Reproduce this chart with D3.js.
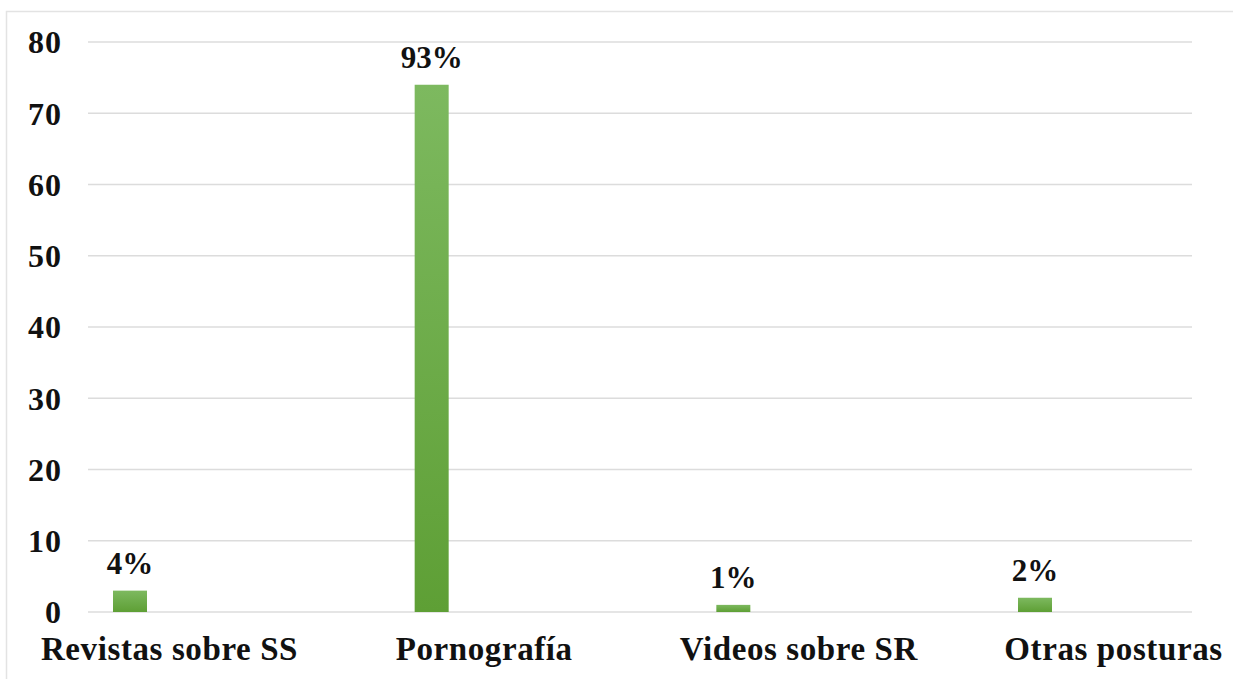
<!DOCTYPE html>
<html><head><meta charset="utf-8">
<script src="https://cdn.jsdelivr.net/npm/d3@7"></script>
<style>body{margin:0;background:#fff}svg{display:block}</style>
</head><body>
<script>
const categories = ["Revistas sobre SS", "Pornografía", "Videos sobre SR", "Otras posturas"];
const values = [3, 74, 1, 2];
const pctLabels = ["4%", "93%", "1%", "2%"];
const yTicks = [0, 10, 20, 30, 40, 50, 60, 70, 80];

const W = 1233, H = 679;
const svg = d3.select("body").append("svg").attr("width", W).attr("height", H);
const font = "'Liberation Serif','Times New Roman',serif";

const defs = svg.append("defs");
const grad = defs.append("linearGradient").attr("id", "g").attr("x1", 0).attr("y1", 0).attr("x2", 0).attr("y2", 1);
grad.append("stop").attr("offset", "0%").attr("stop-color", "#7db95f");
grad.append("stop").attr("offset", "100%").attr("stop-color", "#5e9f35");

// frame
svg.append("rect").attr("x", 6.5).attr("y", 11.5).attr("width", 1240).attr("height", 680)
  .attr("fill", "none").attr("stroke", "#e3e3e3").attr("stroke-width", 1.5);

const y = d3.scaleLinear().domain([0, 80]).range([612, 42]);
const xBar = d3.scalePoint().domain(categories).range([130, 1035]);
const xLab = d3.scalePoint().domain(categories).range([169, 1113]);
const barW = 34;

// gridlines
svg.append("g").selectAll("line").data(yTicks).join("line")
  .attr("x1", 88).attr("x2", 1192)
  .attr("y1", d => y(d)).attr("y2", d => y(d))
  .attr("stroke", "#dcdcdc").attr("stroke-width", 1.5);

// y axis labels
const yAxis = d3.axisLeft(y).tickValues(yTicks).tickSize(0).tickPadding(0);
const yg = svg.append("g").attr("transform", "translate(62,0)").call(yAxis);
yg.select(".domain").remove();
yg.selectAll("text").attr("font-family", font).attr("font-weight", "bold")
  .attr("font-size", 32).attr("letter-spacing", 1).attr("fill", "#111").attr("dy", "0.34em");

// bars
svg.append("g").selectAll("rect").data(values).join("rect")
  .attr("x", (d, i) => xBar(categories[i]) - barW / 2)
  .attr("width", barW)
  .attr("y", d => y(d))
  .attr("height", d => y(0) - y(d))
  .attr("fill", "url(#g)");

// value labels
svg.append("g").selectAll("text").data(values).join("text")
  .attr("x", (d, i) => xBar(categories[i]))
  .attr("y", d => y(d) - 17)
  .attr("text-anchor", "middle")
  .attr("font-family", font).attr("font-weight", "bold").attr("font-size", 31).attr("fill", "#111")
  .text((d, i) => pctLabels[i]);

// x axis labels
const xAxis = d3.axisBottom(xLab).tickSize(0).tickPadding(0);
const xg = svg.append("g").attr("transform", "translate(0,660)").call(xAxis);
xg.select(".domain").remove();
xg.selectAll("text").attr("font-family", font).attr("font-weight", "bold")
  .attr("font-size", 33).attr("letter-spacing", 0.6).attr("fill", "#111").attr("dy", 0);
</script>
</body></html>
